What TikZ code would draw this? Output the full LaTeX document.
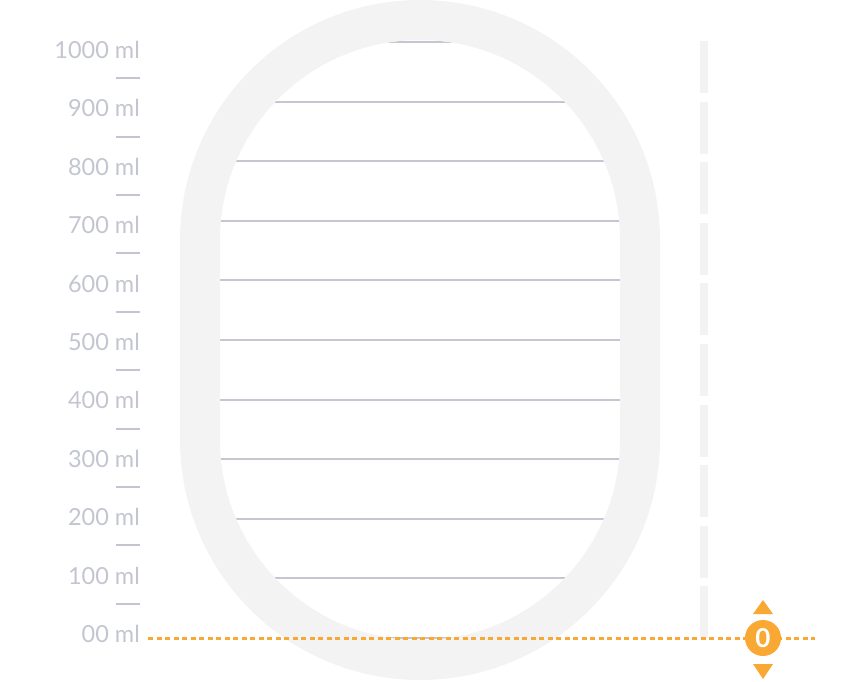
\documentclass[tikz,border=0pt]{standalone}
\usepackage{fontspec}
\setmainfont{Lato}
\definecolor{band}{HTML}{F3F3F3}
\definecolor{gridc}{HTML}{C4C6D1}
\definecolor{labc}{HTML}{C3C6D0}
\definecolor{orng}{HTML}{F8A833}
\begin{document}
\begin{tikzpicture}[x=1pt,y=-1pt,
  lab/.style={anchor=base east,text=labc,font=\fontsize{23.5}{26}\selectfont,inner sep=0pt},
  tick/.style={draw=labc,line width=2pt},
  grid/.style={draw=gridc,line width=2pt},
  bandstyle/.style={draw=band,line width=40pt},
  knob/.style={circle,fill=orng,minimum size=36pt,inner sep=0pt,text=white,font=\bfseries\fontsize{26}{28}\selectfont}]
\useasboundingbox (0,0) rectangle (856,682);
% graduation lines clipped to the inner stadium
\begin{scope}
  \clip (220,240) arc[start angle=180,end angle=360,radius=200] -- (620,440) arc[start angle=0,end angle=180,radius=200] -- cycle;
  \foreach \k in {0,...,10}{
    \draw[grid] (200,{42+59.6*\k}) -- (640,{42+59.6*\k});
  }
\end{scope}
% grey stadium band
\draw[bandstyle] (200,240) arc[start angle=180,end angle=360,radius=220] -- (640,440) arc[start angle=0,end angle=180,radius=220] -- cycle;
% dashed vertical track
\coordinate (vt) at (704,41);
\coordinate (vb) at (704,640);
\draw[draw=band,line width=8pt,dash pattern=on 52pt off 8.6pt] (vt) -- (vb);
% labels and ticks
\foreach \t [count=\i from 0] in {1000,900,800,700,600,500,400,300,200,100,00}{
  \node[lab] (l\i) at (140,{49+58.4*\i+9.5}) {\t\ ml};
}
\foreach \k in {0,...,9}{
  \draw[tick] (116,{78.2+58.4*\k}) -- (140,{78.2+58.4*\k});
}
% orange level line and knob
\coordinate (ol) at (148,638);
\coordinate (orr) at (815,638);
\draw[draw=orng,line width=3pt,dash pattern=on 5pt off 3.5pt] (ol) -- (orr);
\node[knob] (knob) at (763,638) {0};
\fill[orng] (763,600) -- (773,614) -- (753,614) -- cycle;
\fill[orng] (753,664) -- (773,664) -- (763,679) -- cycle;
\end{tikzpicture}
\end{document}
